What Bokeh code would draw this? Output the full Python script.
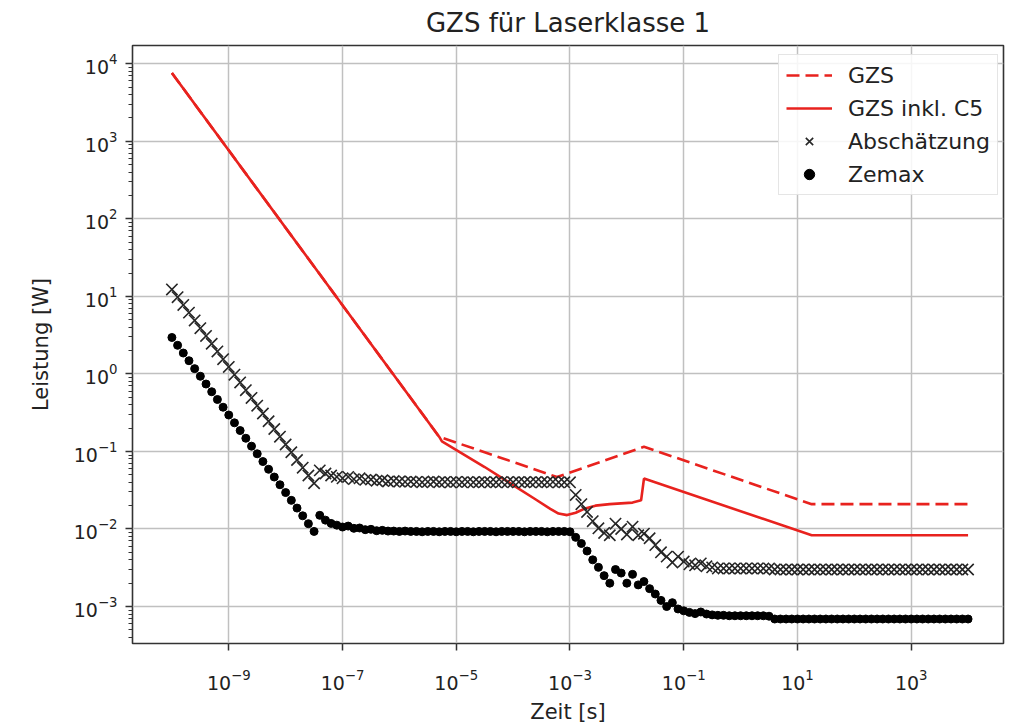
from bokeh.plotting import figure
from bokeh.models import Range1d, FixedTicker, Legend, LegendItem, LogTickFormatter
from bokeh.embed import file_html
from bokeh.resources import INLINE

# ---- data -------------------------------------------------------------
# sample times (log10 of t in s) of the simulated / estimated points
zeit_exp = [
    -10.0, -9.9, -9.8, -9.7, -9.6, -9.5, -9.4, -9.3, -9.2, -9.1,
    -9.0, -8.9, -8.8, -8.7, -8.6, -8.5, -8.4, -8.3, -8.2, -8.1,
    -8.0, -7.9, -7.8, -7.7, -7.6, -7.5, -7.4, -7.3, -7.2, -7.1,
    -7.0, -6.9, -6.8, -6.7, -6.6, -6.5, -6.4, -6.3, -6.2, -6.1,
    -6.0, -5.9, -5.8, -5.7, -5.6, -5.5, -5.4, -5.3, -5.2, -5.1,
    -5.0, -4.9, -4.8, -4.7, -4.6, -4.5, -4.4, -4.3, -4.2, -4.1,
    -4.0, -3.9, -3.8, -3.7, -3.6, -3.5, -3.4, -3.3, -3.2, -3.1,
    -3.0, -2.9, -2.8, -2.7, -2.6, -2.5, -2.4, -2.3, -2.2, -2.1,
    -2.0, -1.9, -1.8, -1.7, -1.6, -1.5, -1.4, -1.3, -1.2, -1.1,
    -1.0, -0.9, -0.8, -0.7, -0.6, -0.5, -0.4, -0.3, -0.2, -0.1,
    0.0, 0.1, 0.2, 0.3, 0.4, 0.5, 0.6, 0.7, 0.8, 0.9,
    1.0, 1.1, 1.2, 1.3, 1.4, 1.5, 1.6, 1.7, 1.8, 1.9,
    2.0, 2.1, 2.2, 2.3, 2.4, 2.5, 2.6, 2.7, 2.8, 2.9,
    3.0, 3.1, 3.2, 3.3, 3.4, 3.5, 3.6, 3.7, 3.8, 3.9,
    4.0,
]

abschaetzung = [
    12.3, 9.77, 7.76, 6.17, 4.90, 3.89, 3.09, 2.45, 1.95, 1.55,
    1.23, 0.977, 0.776, 0.617, 0.490, 0.389, 0.309, 0.245, 0.195, 0.155,
    0.123, 0.0977, 0.0776, 0.0617, 0.0490, 0.0389, 0.057, 0.052, 0.049, 0.047,
    0.045, 0.047, 0.044, 0.045, 0.043, 0.0435, 0.042, 0.0425, 0.041, 0.0415,
    0.041, 0.0405, 0.041, 0.0405, 0.040, 0.0405, 0.041, 0.040, 0.0405, 0.040,
    0.0405, 0.040, 0.0405, 0.040, 0.040, 0.0405, 0.040, 0.040, 0.0405, 0.040,
    0.040, 0.0405, 0.040, 0.040, 0.0405, 0.040, 0.040, 0.0405, 0.040, 0.040,
    0.040, 0.0275, 0.0209, 0.0166, 0.0126, 0.0102, 0.0089, 0.0083, 0.0117, 0.0100,
    0.0085, 0.0107, 0.0083, 0.0087, 0.0076, 0.0062, 0.0050, 0.0044, 0.0037, 0.0044,
    0.0038, 0.0035, 0.0034, 0.0036, 0.0033, 0.0032, 0.0031, 0.0031, 0.0031, 0.0031,
    0.0031, 0.0031, 0.0031, 0.0031, 0.0031, 0.0031, 0.0030, 0.0030, 0.0030, 0.0030,
    0.0030, 0.0030, 0.0030, 0.0030, 0.0030, 0.0030, 0.0030, 0.0030, 0.0030, 0.0030,
    0.0030, 0.0030, 0.0030, 0.0030, 0.0030, 0.0030, 0.0030, 0.0030, 0.0030, 0.0030,
    0.0030, 0.0030, 0.0030, 0.0030, 0.0030, 0.0030, 0.0030, 0.0030, 0.0030, 0.0030,
    0.0030,
]

zemax = [
    2.95, 2.34, 1.86, 1.48, 1.17, 0.933, 0.741, 0.589, 0.468, 0.372,
    0.295, 0.234, 0.186, 0.148, 0.117, 0.0933, 0.0741, 0.0589, 0.0468, 0.0372,
    0.0295, 0.0234, 0.0186, 0.0148, 0.0117, 0.0093, 0.0150, 0.0130, 0.0118, 0.0112,
    0.0106, 0.0109, 0.0102, 0.0103, 0.0098, 0.0099, 0.0095, 0.0096, 0.0094, 0.0094,
    0.0093, 0.0094, 0.0093, 0.0093, 0.0092, 0.0093, 0.0093, 0.0092, 0.0093, 0.0093,
    0.0092, 0.0093, 0.0093, 0.0092, 0.0093, 0.0093, 0.0093, 0.0092, 0.0093, 0.0093,
    0.0093, 0.0093, 0.0092, 0.0093, 0.0093, 0.0093, 0.0092, 0.0093, 0.0093, 0.0093,
    0.0092, 0.0078, 0.0065, 0.0052, 0.0040, 0.0032, 0.0025, 0.0020, 0.0030, 0.0027,
    0.0020, 0.0026, 0.0019, 0.0021, 0.0017, 0.00145, 0.0012, 0.00100, 0.00112, 0.00093,
    0.00088, 0.00084, 0.00081, 0.00085, 0.00080, 0.00078, 0.00077, 0.00077, 0.00076, 0.00076,
    0.00076, 0.00076, 0.00076, 0.00076, 0.00076, 0.00075, 0.00069, 0.00069, 0.00069, 0.00069,
    0.00069, 0.00069, 0.00069, 0.00069, 0.00069, 0.00069, 0.00069, 0.00069, 0.00069, 0.00069,
    0.00069, 0.00069, 0.00069, 0.00069, 0.00069, 0.00069, 0.00069, 0.00069, 0.00069, 0.00069,
    0.00069, 0.00069, 0.00069, 0.00069, 0.00069, 0.00069, 0.00069, 0.00069, 0.00069, 0.00069,
    0.00069,
]

# limit curves (vertices)
gzs_t = [1e-10, 5.0e-6, 5.9e-4, 2.0e-2, 17.8, 1e4]
gzs_p = [7600, 0.155, 0.0468, 0.115, 0.0209, 0.0209]

c5_t = [1e-10, 5.0e-6, 5.6e-6, 3.16e-5, 2.5e-4, 4.5e-4, 6.3e-4, 8.9e-4, 1.26e-3,
        1.78e-3, 2.8e-3, 5.0e-3, 7.9e-3, 1.26e-2, 1.78e-2, 2.0e-2, 17.8, 1e4]
c5_p = [7600, 0.155, 0.135, 0.063, 0.024, 0.0182, 0.0158, 0.0151, 0.0162,
        0.0182, 0.0200, 0.0209, 0.0214, 0.0219, 0.0234, 0.0447, 0.0083, 0.0083]

x_tick_exp = [-9, -7, -5, -3, -1, 1, 3]
y_tick_exp = [-3, -2, -1, 0, 1, 2, 3, 4]

# ---- figure -----------------------------------------------------------
zeit = [10 ** e for e in zeit_exp]

FONT = "DejaVu Sans"
TXT = "#222222"
RED = "#e8221e"

p = figure(width=1020, height=726, x_axis_type="log", y_axis_type="log",
           x_range=Range1d(10 ** -10.693, 10 ** 4.623),
           y_range=Range1d(10 ** -3.477, 10 ** 4.236),
           output_backend="svg", toolbar_location=None,
           min_border_left=132, min_border_right=17,
           min_border_top=45, min_border_bottom=83,
           title="GZS für Laserklasse 1")

p.title.align = "center"
p.title.vertical_align = "top"
p.title.text_font = FONT
p.title.text_font_size = "26px"
p.title.text_font_style = "normal"
p.title.text_color = TXT
p.title.standoff = 12

p.outline_line_color = "#333333"
p.outline_line_width = 1.6
p.background_fill_color = "white"
p.border_fill_color = "white"

minor_y = []
for e in range(-4, 5):
    for m in range(2, 10):
        minor_y.append(m * 10 ** e)

p.xaxis.ticker = FixedTicker(ticks=[10 ** e for e in x_tick_exp], minor_ticks=[])
p.yaxis.ticker = FixedTicker(ticks=[10 ** e for e in y_tick_exp], minor_ticks=minor_y)
p.xaxis.formatter = LogTickFormatter()
p.yaxis.formatter = LogTickFormatter()

for ax in (p.xaxis, p.yaxis):
    ax.axis_line_color = None
    ax.major_tick_line_color = "#333333"
    ax.minor_tick_line_color = "#333333"
    ax.major_tick_line_width = 1.5
    ax.minor_tick_line_width = 1.0
    ax.major_tick_in = 0
    ax.major_tick_out = 7
    ax.minor_tick_in = 0
    ax.minor_tick_out = 4
    ax.major_label_text_font = FONT
    ax.major_label_text_font_size = "19px"
    ax.major_label_text_color = TXT
    ax.major_label_standoff = 8
    ax.axis_label_text_font = FONT
    ax.axis_label_text_font_size = "21px"
    ax.axis_label_text_font_style = "normal"
    ax.axis_label_text_color = TXT

p.xaxis.axis_label = "Zeit [s]"
p.yaxis.axis_label = "Leistung [W]"
p.xaxis.major_label_standoff = 18
p.xaxis.axis_label_standoff = 7
p.yaxis.axis_label_standoff = 18

p.grid.grid_line_color = "#c0c0c0"
p.grid.grid_line_width = 1.5

r_gzs = p.line(gzs_t, gzs_p, line_color=RED, line_width=2.6, line_dash="13 6")
r_c5 = p.line(c5_t, c5_p, line_color=RED, line_width=2.6)
r_ab = p.scatter(zeit, abschaetzung, marker="x", size=16, line_color="#262626",
                 line_width=1.6)
r_ze = p.scatter(zeit, zemax, marker="circle", size=8, fill_color="black",
                 line_color="black")

# legend anchored by its bottom-left corner (screen px from frame bottom-left)
legend = Legend(items=[
    LegendItem(label="GZS", renderers=[r_gzs]),
    LegendItem(label="GZS inkl. C5", renderers=[r_c5]),
    LegendItem(label="Abschätzung", renderers=[r_ab]),
    LegendItem(label="Zemax", renderers=[r_ze]),
], location=(646, 448))
legend.margin = 0
legend.padding = 7
legend.spacing = 7
legend.glyph_width = 46
legend.glyph_height = 26
legend.label_height = 26
legend.label_standoff = 16
legend.label_text_font = FONT
legend.label_text_font_size = "22px"
legend.label_text_color = TXT
legend.border_line_color = "#cccccc"
legend.border_line_width = 1.5
legend.background_fill_color = "white"
legend.background_fill_alpha = 0.85
p.add_layout(legend)

open("out.html", "w").write(file_html(p, INLINE))
